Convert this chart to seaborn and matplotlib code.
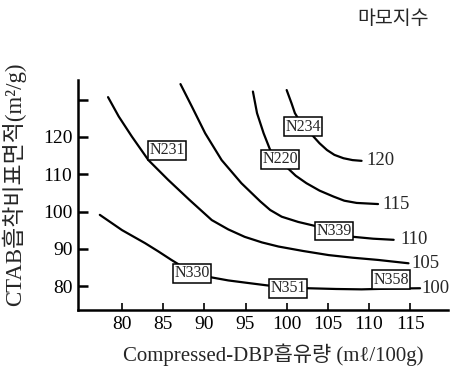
import matplotlib
matplotlib.use("Agg")
import matplotlib.pyplot as plt
import pandas as pd
import seaborn as sns

# Abrasion-index contours: CTAB surface area vs compressed DBP absorption
levels = ["100", "105", "110", "115", "120"]

x_100 = [77.3, 80.0, 82.8, 84.4, 86.0, 88.5, 90.9, 92.9, 95.0, 97.5, 100.2, 102.6, 106.0, 109.1, 112.7, 116.2]
y_100 = [99.1, 95.0, 91.5, 89.3, 87.0, 83.6, 82.3, 81.5, 80.9, 80.2, 79.5, 79.4, 79.2, 79.1, 79.3, 79.4]

x_105 = [78.3, 79.6, 81.2, 83.2, 85.6, 88.2, 90.9, 92.9, 94.9, 97.0, 99.0, 102.0, 105.1, 108.0, 111.1, 114.8]
y_105 = [130.7, 125.5, 120.1, 113.8, 108.5, 103.1, 97.7, 95.2, 93.2, 91.7, 90.6, 89.4, 88.3, 87.6, 87.0, 86.1]

x_110 = [87.1, 88.5, 90.1, 92.1, 94.5, 96.8, 98.0, 99.4, 101.4, 103.5, 105.8, 108.1, 110.5, 113.0]
y_110 = [134.2, 128.1, 121.0, 113.8, 107.6, 102.7, 100.4, 98.6, 97.2, 96.1, 94.8, 93.2, 92.7, 92.4]

x_115 = [95.9, 96.4, 97.2, 98.0, 99.2, 100.0, 101.1, 102.4, 104.0, 105.7, 107.0, 108.5, 111.1]
y_115 = [132.2, 126.4, 121.0, 116.5, 114.0, 111.9, 109.6, 107.6, 105.6, 104.0, 102.9, 102.3, 102.0]

x_120 = [100.0, 100.6, 101.0, 102.0, 103.1, 104.0, 104.9, 105.8, 106.9, 108.0, 109.1]
y_120 = [132.6, 129.0, 126.4, 122.8, 120.5, 118.3, 116.5, 115.2, 114.3, 113.8, 113.6]

# Carbon black grades marked along the contours
grades = ["N231", "N220", "N234", "N339", "N330", "N351", "N358"]
grade_x = [85.5, 99.2, 102.0, 105.8, 88.5, 100.2, 112.7]
grade_y = [116.4, 114.0, 122.8, 94.8, 83.4, 79.4, 81.7]

# End-of-contour value labels
level_label_x = [116.4, 115.2, 113.8, 111.6, 109.7]
level_label_y = [79.4, 86.1, 92.4, 102.0, 113.6]

x_ticks = [80, 85, 90, 95, 100, 105, 110, 115]
y_ticks = [80, 90, 100, 110, 120, 130]
y_tick_labels = ["80", "90", "100", "110", "120", ""]

curves = {
    "100": (x_100, y_100),
    "105": (x_105, y_105),
    "110": (x_110, y_110),
    "115": (x_115, y_115),
    "120": (x_120, y_120),
}
rows = []
for lev, (xs, ys) in curves.items():
    for i, (xv, yv) in enumerate(zip(xs, ys)):
        rows.append({"dbp": xv, "ctab": yv, "level": lev, "order": i})
df = pd.DataFrame(rows)

sns.set_theme(style="white")
serif = ["Liberation Serif", "Noto Sans CJK KR"]
plt.rcParams["font.family"] = serif

fig = plt.figure(figsize=(4.53, 3.72), dpi=100)
ax = fig.add_axes([78 / 453, 62 / 372, 370 / 453, 230 / 372])

sns.lineplot(data=df, x="dbp", y="ctab", hue="level", units="level",
             estimator=None, sort=False, palette=["black"] * len(levels),
             linewidth=1.6, legend=False, ax=ax)
for line in ax.get_lines():
    line.set_solid_joinstyle("round")
    line.set_solid_capstyle("round")

for name, gx, gy in zip(grades, grade_x, grade_y):
    ax.text(gx, gy, name, ha="center", va="center", fontsize=11.5,
            family=serif, zorder=5,
            bbox=dict(boxstyle="square,pad=0.08", fc="white", ec="black", lw=1.1))

for lev, lx, ly in zip(levels, level_label_x, level_label_y):
    ax.text(lx, ly, lev, ha="left", va="center", fontsize=13.5, family=serif)

ax.set_xlim(74.65, 119.6)
ax.set_ylim(73.56, 135.3)
ax.set_xticks(x_ticks)
ax.set_xticklabels([str(v) for v in x_ticks])
ax.set_yticks(y_ticks)
ax.set_yticklabels(y_tick_labels)
ax.set_xlabel("")
ax.set_ylabel("")

for side in ["top", "right"]:
    ax.spines[side].set_visible(False)
for side in ["left", "bottom"]:
    ax.spines[side].set_color("black")
    ax.spines[side].set_linewidth(1.8)

ax.tick_params(axis="y", direction="in", length=7, width=1.8, pad=4,
               labelsize=14, colors="black", left=True)
ax.tick_params(axis="x", direction="in", length=5, width=1.2, pad=4,
               labelsize=14, colors="black", bottom=True)

fig.text(393 / 453, 1 - 19 / 372, "마모지수", ha="center", va="center",
         fontsize=14, family=serif)
fig.text(273 / 453, 1 - 355 / 372, "Compressed-DBP흡유량 (mℓ/100g)",
         ha="center", va="center", fontsize=15, family=serif)
fig.text(14 / 453, 1 - 184 / 372, "CTAB흡착비표면적(m²/g)", rotation=90,
         ha="center", va="center", fontsize=16.5, family=serif)

fig.savefig("out.png", dpi=100)
